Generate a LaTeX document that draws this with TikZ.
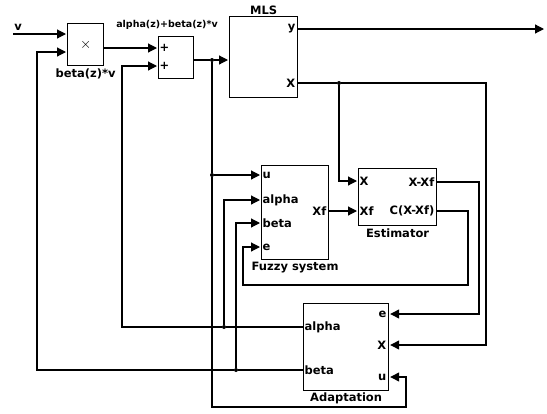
\documentclass[tikz,border=0pt]{standalone}
\usepackage{fontspec}
\setmainfont{DejaVu Sans}
\usetikzlibrary{arrows.meta,positioning,calc}

\begin{document}
\begin{tikzpicture}[
    x=1pt, y=-1pt,
    font=\bfseries\fontsize{11.5}{12}\selectfont,
    blk/.style={draw, line width=1.2pt, inner sep=0pt, anchor=north west},
    port/.style={inner sep=1.5pt},
    captxt/.style={inner sep=1pt},
    wire/.style={line width=1.2pt},
    sig/.style={line width=1.2pt, -{Triangle[length=9pt, width=9pt]}, shorten >=1pt},
    dot/.style={circle, fill=black, inner sep=0pt, minimum size=4pt}
]
\useasboundingbox (0,0) rectangle (547,413);
% blocks
\node[blk, minimum width=36pt, minimum height=42pt] (prod) at (67,23) {};
\node[blk, minimum width=35pt, minimum height=42pt] (sum) at (158,36) {};
\node[blk, minimum width=68pt, minimum height=81pt] (mls) at (229,16) {};
\node[blk, minimum width=67pt, minimum height=94pt] (fuzzy) at (261,165) {};
\node[blk, minimum width=78pt, minimum height=57pt] (est) at (358,168) {};
\node[blk, minimum width=85pt, minimum height=87pt] (adapt) at (303,303) {};
\node[font=\normalfont\fontsize{14}{14}\selectfont] (times) at (prod.center) {$\times$};
% captions
\node[captxt] (vlab) at (18,27) {v};
\node[captxt, below=1pt of prod] (prodlab) {beta(z)*v};
\node[captxt, font=\bfseries\fontsize{9.5}{10}\selectfont] (sumlab) at (167,25) {alpha(z)+beta(z)*v};
\node[captxt, above=0pt of mls] (mlslab) {MLS};
\node[captxt, below=1pt of fuzzy] (fuzzylab) {Fuzzy system};
\node[captxt, below=1pt of est] (estlab) {Estimator};
\node[captxt, below=0pt of adapt] (adaptlab) {Adaptation};
% ports
\node[port, anchor=west] (sp1) at (158,48) {+};
\node[port, anchor=west] (sp2) at (158,66) {+};
\node[port, anchor=east] (my) at (297,29) {y};
\node[port, anchor=east] (mx) at (297,83) {X};
\node[port, anchor=west] (fu) at (261,175) {u};
\node[port, anchor=west] (fa) at (261,200) {alpha};
\node[port, anchor=west] (fb) at (261,223) {beta};
\node[port, anchor=west] (fe) at (261,247) {e};
\node[port, anchor=east] (fx) at (328,211) {Xf};
\node[port, anchor=west] (ex) at (358,181) {X};
\node[port, anchor=west] (exf) at (358,211) {Xf};
\node[port, anchor=east] (ed) at (436,182) {X-Xf};
\node[port, anchor=east] (ec) at (436,211) {C(X-Xf)};
\node[port, anchor=west] (aa) at (303,327) {alpha};
\node[port, anchor=west] (ab) at (303,370) {beta};
\node[port, anchor=east] (ae) at (388,314) {e};
\node[port, anchor=east] (ax) at (388,345) {X};
\node[port, anchor=east] (au) at (388,377) {u};
% junctions
\node[dot] (j1) at (212,60) {};
\node[dot] (j2) at (212,175) {};
\node[dot] (j3) at (339,83) {};
\node[dot] (j4) at (224,327) {};
\node[dot] (j5) at (236,370) {};
\coordinate (vin) at (13,34);
\coordinate (yout) at (545,29);
% forward path
\draw[sig] (vin) -- (prod.west |- vin);
\draw[sig] (prod.east |- sp1) -- (sp1.west);
\draw[wire] (sum.east |- j1) -- (j1);
\draw[sig] (j1) -- (mls.west |- j1);
\draw[sig] (mls.east |- my) -- (yout);
\draw[wire] (mls.east |- mx) -- (j3);
% estimator
\draw[sig] (j3) |- (ex.west);
\draw[sig] (fuzzy.east |- fx) -- (exf.west);
\draw[sig] (j3) -| (486,345) -- (adapt.east |- ax);
\draw[sig] (est.east |- ed) -| (479,314) -- (adapt.east |- ae);
\draw[sig] (est.east |- ec) -| (468,285) -| (243,247) -- (fe.west);
% u feedback
\draw[wire] (j1) -- (j2);
\draw[sig] (j2) -- (fu.west);
\draw[sig] (j2) |- (406,407) |- (adapt.east |- au);
% alpha and beta
\draw[wire] (aa.west) -- (j4);
\draw[sig] (j4) |- (fa.west);
\draw[sig] (j4) -| (122,66) -- (sp2.west);
\draw[wire] (ab.west) -- (j5);
\draw[sig] (j5) |- (fb.west);
\draw[sig] (j5) -| (37,52) -- (prod.west |- 0,52);
\end{tikzpicture}
\end{document}
